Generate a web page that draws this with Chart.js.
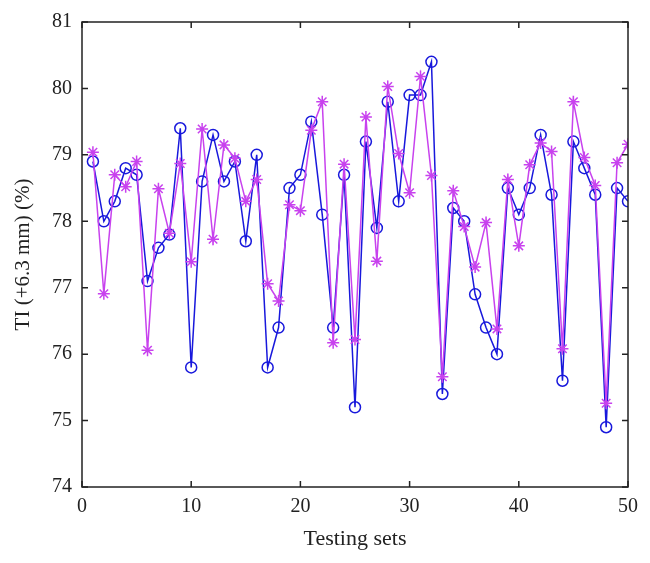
<!DOCTYPE html>
<html>
<head>
<meta charset="utf-8">
<script src="https://cdn.jsdelivr.net/npm/chart.js@4.4.1/dist/chart.umd.min.js"></script>
<style>
  html, body { margin: 0; padding: 0; background: #fff; }
  #wrap { width: 650px; height: 563px; }
</style>
</head>
<body>
<div id="wrap"><canvas id="tiChart" width="650" height="563"></canvas></div>
<script>
// Testing set numbers
var sets = [1, 2, 3, 4, 5, 6, 7, 8, 9, 10, 11, 12, 13, 14, 15, 16, 17, 18, 19, 20,
            21, 22, 23, 24, 25, 26, 27, 28, 29, 30, 31, 32, 33, 34, 35, 36, 37, 38, 39, 40,
            41, 42, 43, 44, 45, 46, 47, 48, 49, 50];

// blue circles
var seriesA = [78.9, 78.0, 78.3, 78.8, 78.7, 77.1, 77.6, 77.8, 79.4, 75.8,
               78.6, 79.3, 78.6, 78.9, 77.7, 79.0, 75.8, 76.4, 78.5, 78.7,
               79.5, 78.1, 76.4, 78.7, 75.2, 79.2, 77.9, 79.8, 78.3, 79.9,
               79.9, 80.4, 75.4, 78.2, 78.0, 76.9, 76.4, 76.0, 78.5, 78.1,
               78.5, 79.3, 78.4, 75.6, 79.2, 78.8, 78.4, 74.9, 78.5, 78.3];

// magenta stars
var seriesB = [79.04, 76.91, 78.7, 78.52, 78.9, 76.06, 78.49, 77.82, 78.87, 77.39,
               79.39, 77.73, 79.15, 78.95, 78.3, 78.63, 77.06, 76.8, 78.25, 78.16,
               79.37, 79.8, 76.17, 78.86, 76.22, 79.57, 77.4, 80.03, 79.02, 78.43,
               80.18, 78.69, 75.66, 78.46, 77.92, 77.31, 77.98, 76.38, 78.63, 77.63,
               78.85, 79.18, 79.05, 76.08, 79.8, 78.96, 78.54, 75.26, 78.88, 79.16];

var xTicks = [0, 10, 20, 30, 40, 50];
var yTicks = [74, 75, 76, 77, 78, 79, 80, 81];

function toPoints(vals) {
    return vals.map(function (v, i) { return { x: sets[i], y: v }; });
}

// MATLAB style box with inward ticks on all four sides
var boxPlugin = {
    id: 'boxPlugin',
    afterDraw: function (chart) {
        var ctx = chart.ctx;
        var a = chart.chartArea;
        var xs = chart.scales.x, ys = chart.scales.y;
        var len = 6;
        ctx.save();
        ctx.strokeStyle = '#222';
        ctx.lineWidth = 1.5;
        ctx.strokeRect(a.left, a.top, a.right - a.left, a.bottom - a.top);
        ctx.beginPath();
        xTicks.forEach(function (t) {
            var px = xs.getPixelForValue(t);
            ctx.moveTo(px, a.bottom); ctx.lineTo(px, a.bottom - len);
            ctx.moveTo(px, a.top); ctx.lineTo(px, a.top + len);
        });
        yTicks.forEach(function (t) {
            var py = ys.getPixelForValue(t);
            ctx.moveTo(a.left, py); ctx.lineTo(a.left + len, py);
            ctx.moveTo(a.right, py); ctx.lineTo(a.right - len, py);
        });
        ctx.stroke();
        ctx.restore();
    }
};

var serif = "'Liberation Serif', 'DejaVu Serif', serif";

new Chart(document.getElementById('tiChart').getContext('2d'), {
    type: 'line',
    data: {
        datasets: [{
            label: 'Predicted',
            data: toPoints(seriesB),
            borderColor: '#c842ee',
            backgroundColor: '#c842ee',
            borderWidth: 1.5,
            pointStyle: 'star',
            pointRadius: 6,
            pointBorderWidth: 1.5,
            pointBorderColor: '#c842ee',
            tension: 0
        }, {
            label: 'Measured',
            data: toPoints(seriesA),
            borderColor: '#1818dc',
            backgroundColor: 'rgba(0,0,0,0)',
            borderWidth: 1.5,
            pointStyle: 'circle',
            pointRadius: 5.5,
            pointBorderWidth: 1.5,
            pointBorderColor: '#1818dc',
            pointBackgroundColor: 'rgba(0,0,0,0)',
            tension: 0
        }]
    },
    options: {
        responsive: false,
        animation: false,
        layout: { padding: { top: 22, right: 22, left: 3, bottom: 7 } },
        plugins: {
            legend: { display: false },
            tooltip: { enabled: false }
        },
        scales: {
            x: {
                type: 'linear',
                min: 0,
                max: 50,
                afterBuildTicks: function (s) { s.ticks = xTicks.map(function (v) { return { value: v }; }); },
                afterFit: function (s) { s.height = 69; },
                grid: { display: false, drawTicks: false },
                border: { display: false },
                ticks: { color: '#222', padding: 8, font: { family: serif, size: 20 } },
                title: {
                    display: true,
                    text: 'Testing sets',
                    color: '#222',
                    padding: { top: 2 },
                    font: { family: serif, size: 22 }
                }
            },
            y: {
                min: 74,
                max: 81,
                afterBuildTicks: function (s) { s.ticks = yTicks.map(function (v) { return { value: v }; }); },
                afterFit: function (s) { s.width = 79; },
                grid: { display: false, drawTicks: false },
                border: { display: false },
                ticks: { color: '#222', padding: 10, font: { family: serif, size: 20 } },
                title: {
                    display: true,
                    text: 'TI (+6.3 mm) (%)',
                    color: '#222',
                    padding: { top: 8, bottom: 0 },
                    font: { family: serif, size: 21 }
                }
            }
        }
    },
    plugins: [boxPlugin]
});
</script>
</body>
</html>
